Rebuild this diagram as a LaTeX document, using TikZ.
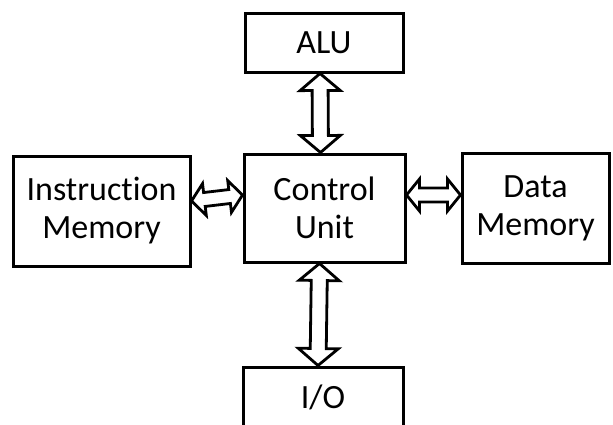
\documentclass[tikz,border=0pt]{standalone}
\usepackage{fontspec}
\setmainfont{Carlito}[Ligatures=NoCommon]
\usetikzlibrary{calc}

\tikzset{
    block/.style={draw, line width=3pt, fill=white, align=center,
        inner sep=0pt, font=\fontsize{34}{38}\selectfont},
    % hollow double arrow: head length, head half width, shaft half width
    bus/.style n args={3}{line width=2.8pt, line join=miter, fill=white,
        to path={
            -- ($(\tikztostart)!#1!(\tikztotarget)!#2!90:(\tikztotarget)$)
            -- ($(\tikztostart)!#1!(\tikztotarget)!#3!90:(\tikztotarget)$)
            -- ($(\tikztotarget)!#1!(\tikztostart)!#3!-90:(\tikztostart)$)
            -- ($(\tikztotarget)!#1!(\tikztostart)!#2!-90:(\tikztostart)$)
            -- (\tikztotarget)
            -- ($(\tikztotarget)!#1!(\tikztostart)!#2!90:(\tikztostart)$)
            -- ($(\tikztotarget)!#1!(\tikztostart)!#3!90:(\tikztostart)$)
            -- ($(\tikztostart)!#1!(\tikztotarget)!#3!-90:(\tikztotarget)$)
            -- ($(\tikztostart)!#1!(\tikztotarget)!#2!-90:(\tikztotarget)$)
            -- cycle}},
    vbus/.style={bus={17pt}{20pt}{8pt}},
    hbus/.style={bus={13pt}{16pt}{7pt}}
}

\begin{document}
\begin{tikzpicture}[x=1pt,y=-1pt]

    \useasboundingbox (0,0) rectangle (613,424);

    % Blocks
    \node[block, minimum width=158pt, minimum height=59pt]  (alu)  at (324,42.5)  {ALU};
    \node[block, minimum width=161pt, minimum height=108pt] (ctrl) at (324.5,208) {Control\\Unit};
    \node[block, minimum width=177pt, minimum height=110pt] (imem) at (101.5,211) {Instruction\\Memory};
    \node[block, minimum width=147pt, minimum height=110pt] (dmem) at (535.5,208) {Data\\Memory};
    \node[block, minimum width=160pt, minimum height=60pt]  (io)   at (323,397)   {I/O};

    % Buses
    \draw[vbus] ([xshift=-4pt]alu.south) to ([xshift=-4pt]ctrl.north);
    \draw[vbus] ([xshift=-5pt]ctrl.south) to ([xshift=-5pt]io.north);
    \draw[hbus] ([yshift=10pt]imem.east) to ([yshift=13pt]ctrl.west);
    \draw[hbus] ([yshift=13pt]ctrl.east) to ([yshift=13pt]dmem.west);

\end{tikzpicture}
\end{document}
